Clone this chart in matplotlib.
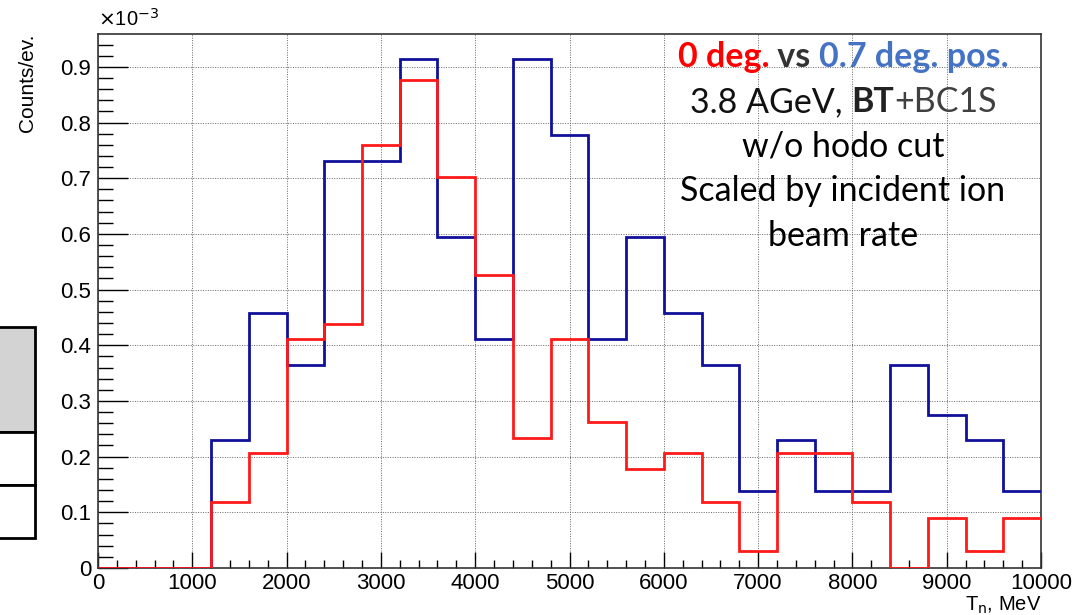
import matplotlib
matplotlib.use("Agg")
import matplotlib.pyplot as plt
import numpy as np
from matplotlib.patches import Rectangle
from matplotlib.ticker import MultipleLocator, FormatStrFormatter

# ---- data (values in units of 1e-3 counts/ev.) ----
bin_edges = np.arange(0, 10001, 400)
blue_values = [0, 0, 0, 0.230, 0.458, 0.365, 0.731, 0.731, 0.914, 0.595, 0.411,
               0.914, 0.777, 0.411, 0.595, 0.458, 0.365, 0.138, 0.230, 0.138,
               0.138, 0.365, 0.275, 0.230, 0.138]
red_values = [0, 0, 0, 0.118, 0.206, 0.411, 0.438, 0.760, 0.877, 0.702, 0.526,
              0.234, 0.411, 0.263, 0.177, 0.206, 0.118, 0.031, 0.206, 0.206,
              0.118, 0.0, 0.089, 0.031, 0.089]
x_ticks = [0, 1000, 2000, 3000, 4000, 5000, 6000, 7000, 8000, 9000, 10000]
y_ticks = [0, 0.1, 0.2, 0.3, 0.4, 0.5, 0.6, 0.7, 0.8, 0.9]

W, H = 1076, 615
fig = plt.figure(figsize=(W / 100, H / 100), dpi=100)
plt.rcParams['font.family'] = ['Liberation Sans', 'DejaVu Sans']

ax = fig.add_axes([98 / W, 1 - 568 / H, (1041 - 98) / W, (568 - 34) / H])
ax.set_xlim(0, 10000)
ax.set_ylim(0, 0.959)

ax.stairs(blue_values, bin_edges, baseline=None, color='#10109a', linewidth=2, zorder=3)
ax.stairs(red_values, bin_edges, baseline=None, color='#ff1a1a', linewidth=2, zorder=4)

ax.set_xticks(x_ticks)
ax.set_yticks(y_ticks)
ax.xaxis.set_minor_locator(MultipleLocator(200))
ax.yaxis.set_minor_locator(MultipleLocator(0.02))
ax.yaxis.set_major_formatter(FormatStrFormatter('%g'))
ax.tick_params(axis='both', which='both', direction='in', labelsize=16, colors='black')
ax.tick_params(axis='x', which='major', length=11.5, width=1, pad=3.5)
ax.tick_params(axis='x', which='minor', length=5.5, width=1)
ax.tick_params(axis='y', which='major', length=21.6, width=1, pad=5)
ax.tick_params(axis='y', which='minor', length=10.8, width=1)
ax.grid(True, which='major', linestyle=(0, (1, 1.5)), color='#666666', linewidth=0.7)
ax.set_axisbelow(True)
for s in ax.spines.values():
    s.set_linewidth(1.2)
    s.set_color('#333333')

# axis titles
fig.text(27 / W, 1 - 33 / H, 'Counts/ev.', rotation=90, ha='center', va='top', fontsize=15)
fig.text(98 / W, 1 - 30 / H, r'$\times$10$^{-3}$', ha='left', va='bottom', fontsize=14.5)
fig.text(1041 / W, 1 - 611 / H, r'T$_{\rm n}$, MeV', ha='right', va='baseline', fontsize=14.5)

# partial stats box at left
def frect(x0, y0, x1, y1, fc):
    fig.patches.append(Rectangle((x0 / W, 1 - y1 / H), (x1 - x0) / W, (y1 - y0) / H,
                                 transform=fig.transFigure, facecolor=fc,
                                 edgecolor='black', linewidth=2))
frect(-5, 327, 35, 432, '#d3d3d3')
frect(-5, 432, 35, 485, 'white')
frect(-5, 485, 35, 538, 'white')

# annotation text
afont = ['Lato', 'DejaVu Sans']
cx = 843
fs = 24.5
t1 = fig.text(0, 0, '0 deg.', color='#ff0000', fontweight='bold', fontsize=fs, family=afont)
t2 = fig.text(0, 0, ' vs ', color='#333333', fontweight='bold', fontsize=fs, family=afont)
t3 = fig.text(0, 0, '0.7 deg. pos.', color='#4472c4', fontweight='bold', fontsize=fs, family=afont)
fig.canvas.draw()
r = fig.canvas.get_renderer()
ws = [t.get_window_extent(r).width for t in (t1, t2, t3)]
x = cx - sum(ws) / 2
for t, w in zip((t1, t2, t3), ws):
    t.set_position((x / W, 1 - 57 / H))
    t.set_va('center')
    x += w

u1 = fig.text(0, 0, '3.8 AGeV, ', color='#111111', fontsize=fs, family=afont)
u2 = fig.text(0, 0, 'BT', color='#222222', fontweight='bold', fontsize=fs, family=afont)
u3 = fig.text(0, 0, '+BC1S', color='#404040', fontsize=fs, family=afont)
fig.canvas.draw()
ws = [t.get_window_extent(r).width for t in (u1, u2, u3)]
x = cx - sum(ws) / 2
for t, w in zip((u1, u2, u3), ws):
    t.set_position((x / W, 1 - 102 / H))
    t.set_va('center')
    x += w

for txt, yy in [('w/o hodo cut', 146), ('Scaled by incident ion', 191), ('beam rate', 236)]:
    fig.text(cx / W, 1 - yy / H, txt, ha='center', va='center', fontsize=fs,
             color='black', family=afont)

fig.savefig('out.png', dpi=100)
